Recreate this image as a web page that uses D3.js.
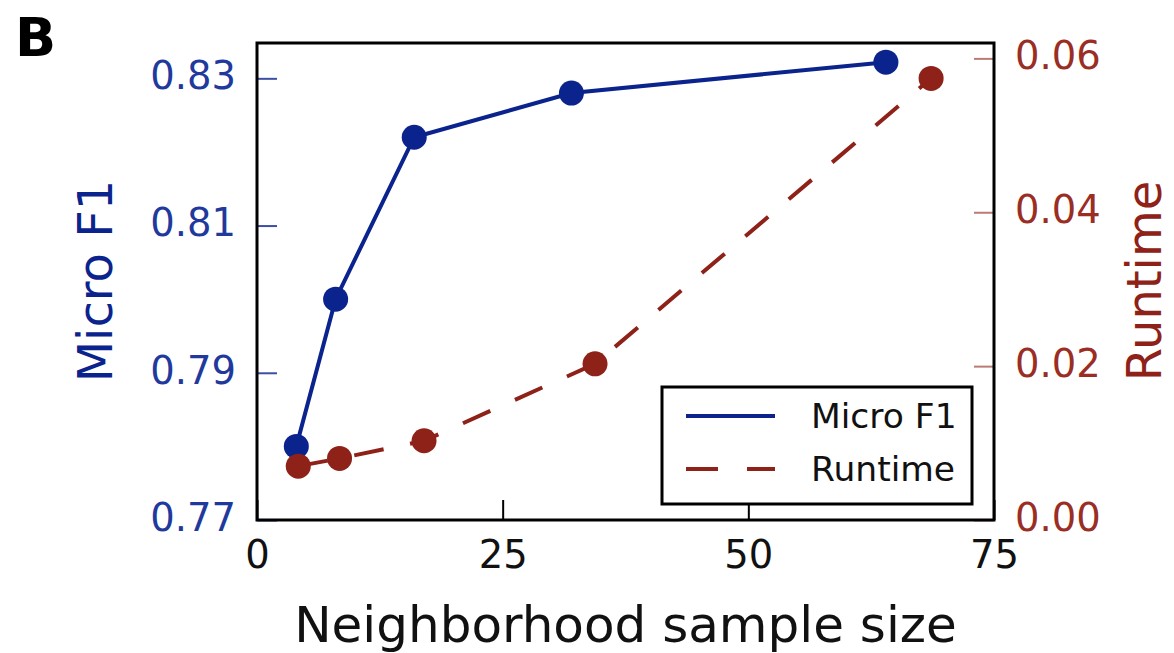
<!DOCTYPE html>
<html>
<head>
<meta charset="utf-8">
<script src="https://cdn.jsdelivr.net/npm/d3@7"></script>
<style>
  body { margin: 0; background: #fff; }
  svg { display: block; font-family: "DejaVu Sans", sans-serif; }
</style>
</head>
<body>
<svg id="chart" width="1174" height="653"></svg>
<script>
// data
const sampleSizes = [4, 8, 16, 32, 64];
const microF1 = [0.780, 0.800, 0.822, 0.828, 0.8322];
const runtimeX = [4.2, 8.4, 17, 34.4, 68.6];
const runtime = [0.0070, 0.0080, 0.0103, 0.0203, 0.0574];
const xTicks = [0, 25, 50, 75];
const f1Ticks = [0.77, 0.79, 0.81, 0.83];
const rtTicks = [0, 0.02, 0.04, 0.06];
const legendLabels = ["Micro F1", "Runtime"];

const blue = "#0b238c", red = "#8e2118";
const svg = d3.select("#chart");
const margin = {left: 257, right: 994, top: 43, bottom: 520};

const x = d3.scaleLinear().domain([0, 75]).range([margin.left, margin.right]);
const yL = d3.scaleLinear().domain([0.77, 0.8348]).range([margin.bottom, margin.top]);
const yR = d3.scaleLinear().domain([0, 0.062]).range([margin.bottom, margin.top]);

// panel letter
svg.append("text").attr("x", 15).attr("y", 56)
  .attr("font-size", 54).attr("font-weight", "bold").attr("fill", "#000").text("B");

// axes (ticks point inward, classic matplotlib style)
const gx = svg.append("g").attr("transform", "translate(0," + margin.bottom + ")")
  .call(d3.axisBottom(x).tickValues(xTicks).tickFormat(d3.format("d"))
    .tickSizeInner(-20).tickSizeOuter(0).tickPadding(21));
gx.selectAll("line").attr("stroke", "#000").attr("stroke-width", 2);
gx.selectAll("text").attr("fill", "#111");

const gl = svg.append("g").attr("transform", "translate(" + margin.left + ",0)")
  .call(d3.axisLeft(yL).tickValues(f1Ticks).tickFormat(d3.format(".2f"))
    .tickSizeInner(-20).tickSizeOuter(0).tickPadding(21));
gl.selectAll("line").attr("stroke", blue).attr("stroke-width", 2).attr("opacity", 0.8);
gl.selectAll("text").attr("fill", "#1f3a9c").attr("dy", "0.27em");

const gr = svg.append("g").attr("transform", "translate(" + margin.right + ",0)")
  .call(d3.axisRight(yR).tickValues(rtTicks).tickFormat(d3.format(".2f"))
    .tickSizeInner(-20).tickSizeOuter(0).tickPadding(21));
gr.selectAll("line").attr("stroke", red).attr("stroke-width", 2).attr("opacity", 0.6);
gr.selectAll("text").attr("fill", "#9a2e24").attr("dy", "0.27em");

[gx, gl, gr].forEach(g => {
  g.select(".domain").remove();
  g.attr("font-size", 38.5).attr("font-family", "DejaVu Sans, sans-serif");
});

// frame
svg.append("rect")
  .attr("x", margin.left).attr("y", margin.top)
  .attr("width", margin.right - margin.left).attr("height", margin.bottom - margin.top)
  .attr("fill", "none").attr("stroke", "#000").attr("stroke-width", 3);

// axis titles
svg.append("text").attr("x", (margin.left + margin.right) / 2).attr("y", 642)
  .attr("text-anchor", "middle").attr("font-size", 50).attr("fill", "#111")
  .text("Neighborhood sample size");
svg.append("text").attr("transform", "translate(112,281) rotate(-90)")
  .attr("text-anchor", "middle").attr("font-size", 48).attr("fill", blue).text("Micro F1");
svg.append("text").attr("transform", "translate(1161,281) rotate(-90)")
  .attr("text-anchor", "middle").attr("font-size", 48).attr("fill", red).text("Runtime");

// Micro F1 series
const f1Data = sampleSizes.map((s, i) => [s, microF1[i]]);
svg.append("path").datum(f1Data)
  .attr("fill", "none").attr("stroke", blue).attr("stroke-width", 4)
  .attr("d", d3.line().x(d => x(d[0])).y(d => yL(d[1])));
svg.append("g").selectAll("circle").data(f1Data).join("circle")
  .attr("cx", d => x(d[0])).attr("cy", d => yL(d[1])).attr("r", 12.5).attr("fill", blue);

// Runtime series (twin axis, drawn on top)
const rtData = runtimeX.map((s, i) => [s, runtime[i]]);
svg.append("path").datum(rtData)
  .attr("fill", "none").attr("stroke", red).attr("stroke-width", 4)
  .attr("stroke-dasharray", "30,27")
  .attr("d", d3.line().x(d => x(d[0])).y(d => yR(d[1])));
svg.append("g").selectAll("circle").data(rtData).join("circle")
  .attr("cx", d => x(d[0])).attr("cy", d => yR(d[1])).attr("r", 12.5).attr("fill", red);

// legend
const lg = svg.append("g");
lg.append("rect").attr("x", 662).attr("y", 387).attr("width", 310).attr("height", 117)
  .attr("fill", "#fff").attr("stroke", "#000").attr("stroke-width", 3);
legendLabels.forEach((lab, i) => {
  const ly = 416 + i * 53;
  lg.append("line").attr("x1", 686).attr("x2", 775).attr("y1", ly).attr("y2", ly)
    .attr("stroke", i === 0 ? blue : red).attr("stroke-width", 4)
    .attr("stroke-dasharray", i === 0 ? null : "32,29");
  lg.append("text").attr("x", 811).attr("y", ly + 12)
    .attr("font-size", 34.5).attr("fill", "#111").text(lab);
});
</script>
</body>
</html>
